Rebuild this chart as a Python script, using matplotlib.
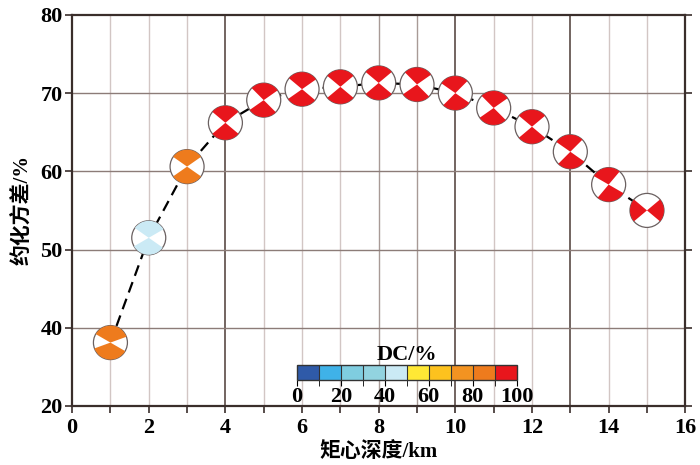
import numpy as np
import matplotlib
matplotlib.use('Agg')
import matplotlib.pyplot as plt
from matplotlib.patches import Wedge, Circle
from matplotlib.transforms import ScaledTranslation
from matplotlib.colors import ListedColormap, BoundaryNorm
from matplotlib.cm import ScalarMappable

# data
depth = [1, 2, 3, 4, 5, 6, 7, 8, 9, 10, 11, 12, 13, 14, 15]  # km
vr = [38.1, 51.5, 60.6, 66.2, 69.1, 70.5, 70.8, 71.3, 71.1, 70.0, 68.1, 65.7, 62.5, 58.3, 55.0]  # %
dc = [85, 45, 85, 95, 95, 95, 95, 95, 95, 95, 95, 95, 95, 95, 95]  # %
# filled quadrant (start, end) angles of each beach ball, in degrees
wedge_start = [20, 30, 35, 40, 35, 35, 40, 40, 35, 45, 35, 40, 45, 50, -40]
wedge_end = [150, 145, 145, 140, 135, 140, 140, 140, 135, 145, 135, 140, 145, 150, 40]

yticks = [30, 40, 50, 60, 70, 80]
ytick_labels = ['20', '40', '50', '60', '70', '80']
xticks = [0, 2, 4, 6, 8, 10, 12, 14, 16]

dc_colors = ['#2f5aa8', '#3fb2e8', '#7fcde0', '#92d3e0', '#cbeaf5',
             '#ffe835', '#fdc21e', '#f39321', '#ee7b1d', '#e8161c']
dc_bounds = [0, 10, 20, 30, 40, 50, 60, 70, 80, 90, 100]

font = ['Liberation Serif', 'Noto Sans CJK SC']
plt.rcParams['font.family'] = font
plt.rcParams['font.weight'] = 'bold'

cmap = ListedColormap(dc_colors)
norm = BoundaryNorm(dc_bounds, cmap.N)

fig = plt.figure(figsize=(7, 4.65), dpi=100)
ax = fig.add_axes([0.103, 0.127, 0.876, 0.841])
ax.set_xlim(0, 16)
ax.set_ylim(30, 80)

# grid lines, darker ones where the picture has them
for xv in range(1, 16):
    if xv in (4, 10, 13):
        c, lw = '#5a4a46', 1.2
    elif xv in (8, 9):
        c, lw = '#a89a96', 1.0
    else:
        c, lw = '#d2c6c4', 1.0
    ax.axvline(xv, color=c, lw=lw, zorder=0)
for yv in [40, 50, 60, 70]:
    ax.axhline(yv, color='#8c7c78', lw=1.0, zorder=0)

ax.plot(depth, vr, color='black', lw=1.6, dashes=(5, 3), zorder=1)

r = 0.17  # ball radius in inches
for i in range(len(depth)):
    trans = fig.dpi_scale_trans + ScaledTranslation(depth[i], vr[i], ax.transData)
    col = cmap(norm(dc[i]))
    ax.add_patch(Circle((0, 0), r, facecolor='white', edgecolor='#6a6060', lw=0.9,
                        transform=trans, zorder=3))
    for off in (0, 180):
        ax.add_patch(Wedge((0, 0), r, wedge_start[i] + off, wedge_end[i] + off,
                           facecolor=col, edgecolor='none', transform=trans, zorder=4))

for s in ax.spines.values():
    s.set_color('#3a2e2b')
    s.set_linewidth(1.6)
ax.set_xticks(xticks)
ax.set_xticks(range(0, 17), minor=True)
ax.set_yticks(yticks)
ax.set_yticklabels(ytick_labels)
ax.tick_params(which='both', direction='out', color='#3a2e2b', labelsize=16, length=5, width=1.2)
ax.tick_params(axis='y', right=True, pad=2)
ax.set_xlabel('矩心深度/km', fontsize=15, fontweight='bold', labelpad=3)
ax.set_ylabel('约化方差/%', fontsize=15, fontweight='bold', labelpad=5)

# colour bar for DC
cax = fig.add_axes([0.424, 0.183, 0.314, 0.032])
cb = fig.colorbar(ScalarMappable(norm=norm, cmap=cmap), cax=cax, orientation='horizontal',
                  drawedges=True)
cb.outline.set_linewidth(1.0)
cb.outline.set_edgecolor('#333333')
cb.dividers.set_color('#333333')
cb.dividers.set_linewidth(0.8)
cb.set_ticks([0, 20, 40, 60, 80, 100])
cax.set_xticks(dc_bounds, minor=True)
cax.tick_params(which='both', direction='out', length=4, labelsize=16, pad=1)
cax.set_title('DC/%', fontsize=16, fontweight='bold', pad=3)

fig.savefig('out.png', dpi=100)
